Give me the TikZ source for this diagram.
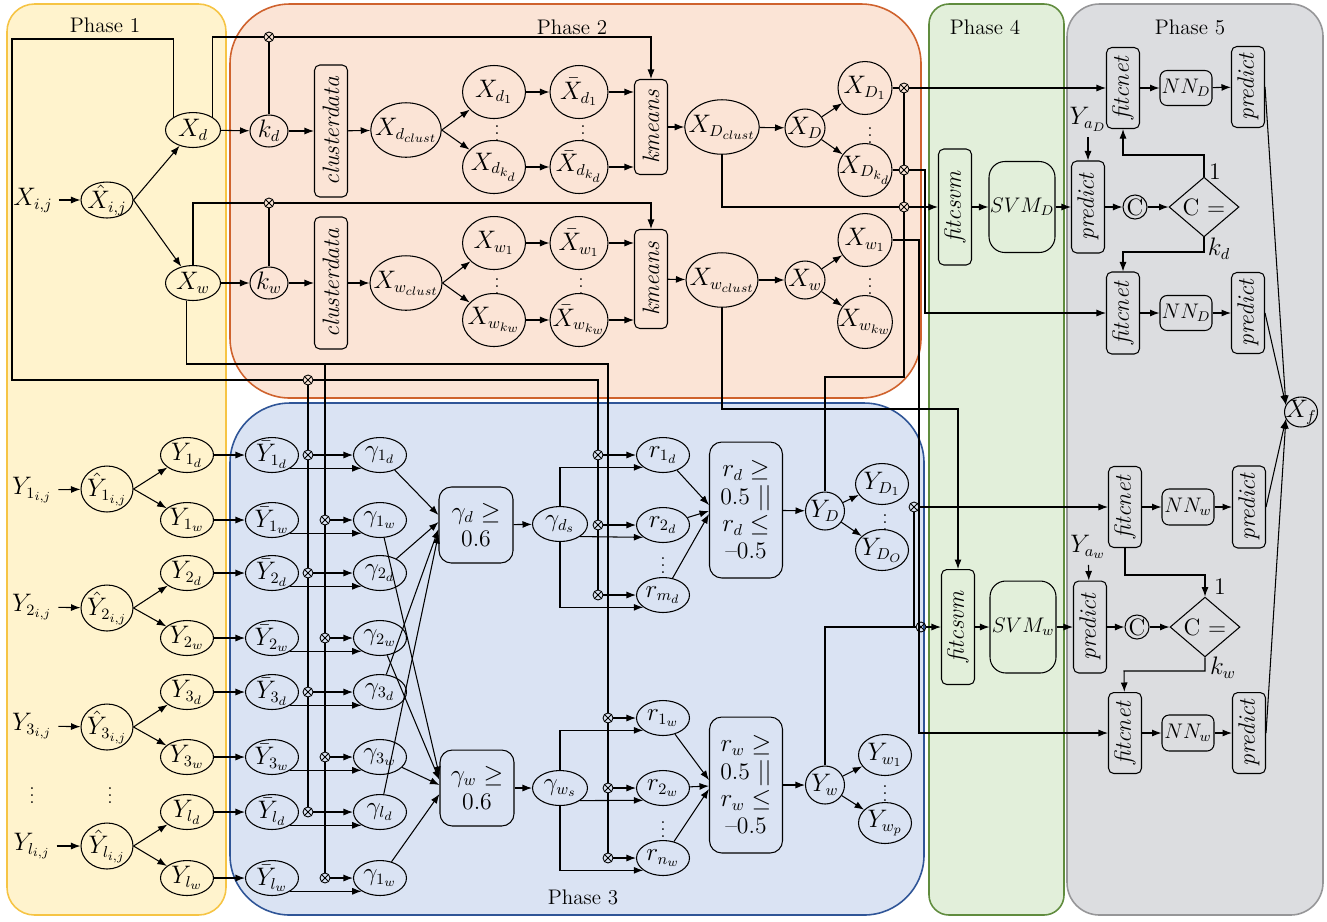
\documentclass[tikz,border=0pt]{standalone}
\usepackage{amsmath,amssymb}
\usepackage{xcolor}
\usepackage{tikz}
\usetikzlibrary{shapes.geometric, arrows.meta, positioning, calc}

\DeclareMathSizes{13.5}{13.5}{9.4}{7}
\definecolor{yelfill}{RGB}{255,243,205}
\definecolor{yelline}{RGB}{246,196,68}
\definecolor{orafill}{RGB}{251,228,214}
\definecolor{oraline}{RGB}{207,98,45}
\definecolor{blufill}{RGB}{218,227,243}
\definecolor{bluline}{RGB}{47,85,151}
\definecolor{grefill}{RGB}{226,239,218}
\definecolor{greline}{RGB}{96,140,62}
\definecolor{gryfill}{RGB}{220,221,224}
\definecolor{gryline}{RGB}{150,150,152}

\begin{document}
\begin{tikzpicture}[x=0.02cm, y=-0.02cm, line width=0.6pt,
  font=\fontsize{13.5}{15.5}\selectfont, >={Latex[length=1.9mm,width=1.4mm]},
  el/.style={draw, ellipse, inner xsep=-4pt, inner ysep=-2pt},
  yel/.style={el, minimum width=1.06cm, minimum height=0.7cm},
  hel/.style={el, minimum width=1.04cm, minimum height=0.92cm},
  xel/.style={el, minimum width=1.26cm, minimum height=1.06cm},
  bel/.style={el, minimum width=1.16cm, minimum height=1.06cm},
  cel/.style={el, minimum width=1.41cm, minimum height=1.09cm},
  oel/.style={el, minimum width=1.08cm, minimum height=1.06cm},
  vb/.style={draw, rotate=90, rounded corners=3pt, inner sep=0pt, minimum height=0.66cm,
    font=\fontsize{13.5}{15.5}\selectfont\itshape},
  rb/.style={draw, rounded corners=7pt, align=center, inner sep=0pt},
  nb/.style={rb, font=\fontsize{12}{14}\selectfont},
  mult/.style={draw, circle, inner sep=0pt, minimum size=0.2cm, line width=0.5pt,
    path picture={\draw[line width=0.5pt] (path picture bounding box.north west) -- (path picture bounding box.south east)
      (path picture bounding box.south west) -- (path picture bounding box.north east);}},
  phase/.style={line width=0.9pt},
  lbl/.style={font=\fontsize{12}{14}\selectfont},
  dts/.style={font=\fontsize{10}{11}\selectfont}]

  \useasboundingbox (0,0) rectangle (1327,921);

  % phase backgrounds
  \draw[phase, draw=yelline, fill=yelfill, rounded corners=0.55cm] (7,4) rectangle (226,915);
  \draw[phase, draw=oraline, fill=orafill, rounded corners=1.2cm] (230,4) rectangle (921,398);
  \draw[phase, draw=bluline, fill=blufill, rounded corners=1.2cm] (230,403) rectangle (924,915);
  \draw[phase, draw=greline, fill=grefill, rounded corners=0.4cm] (929,4) rectangle (1064,915);
  \draw[phase, draw=gryline, fill=gryfill, rounded corners=0.65cm] (1067,4) rectangle (1323,915);
  \node[lbl] (p1) at (105,25) {Phase 1};
  \node[lbl] (p2) at (572,27) {Phase 2};
  \node[lbl] (p3) at (583,897) {Phase 3};
  \node[lbl] (p4) at (985,27) {Phase 4};
  \node[lbl] (p5) at (1190,27) {Phase 5};

  % phase 1
  \node (xij) at (33,200) {$X_{i,j}$};
  \node[el, minimum width=1.04cm, minimum height=0.72cm] (xh) at (107,200) {$\hat{X}_{i,j}$};
  \node[el, minimum width=1.1cm, minimum height=0.7cm] (xd) at (193,130) {$X_d$};
  \node[el, minimum width=1.1cm, minimum height=0.7cm] (xw) at (193,283) {$X_w$};

  \node (yt1) at (32,490) {$Y_{1_{i,j}}$};
  \node[hel] (yh1) at (107,489) {$\hat{Y}_{1_{i,j}}$};
  \node[yel] (y1d) at (187,455) {$Y_{1_d}$};
  \node[yel] (y1w) at (187,520) {$Y_{1_w}$};
  \node (yt2) at (32,607) {$Y_{2_{i,j}}$};
  \node[hel] (yh2) at (107,608) {$\hat{Y}_{2_{i,j}}$};
  \node[yel] (y2d) at (187,573) {$Y_{2_d}$};
  \node[yel] (y2w) at (187,638) {$Y_{2_w}$};
  \node (yt3) at (32,726) {$Y_{3_{i,j}}$};
  \node[hel] (yh3) at (107,727) {$\hat{Y}_{3_{i,j}}$};
  \node[yel] (y3d) at (187,692) {$Y_{3_d}$};
  \node[yel] (y3w) at (187,757) {$Y_{3_w}$};
  \node[dts] (v1) at (32,790) {$\vdots$};
  \node[dts] (v2) at (110,790) {$\vdots$};
  \node (ytl) at (32,846) {$Y_{l_{i,j}}$};
  \node[hel] (yhl) at (107,846) {$\hat{Y}_{l_{i,j}}$};
  \node[yel] (yld) at (187,812) {$Y_{l_d}$};
  \node[yel] (ylw) at (187,878) {$Y_{l_w}$};

  % phase 2
  \node[el, minimum width=0.76cm, minimum height=0.64cm] (kd) at (269,131) {$k_d$};
  \node[el, minimum width=0.76cm, minimum height=0.64cm] (kw) at (269,283) {$k_w$};
  \node[vb, minimum width=2.64cm] (cdd) at (331,131) {clusterdata};
  \node[vb, minimum width=2.64cm] (cdw) at (331,283) {clusterdata};
  \node[cel] (xdc) at (406,130) {$X_{d_{clust}}$};
  \node[cel] (xwc) at (406,283) {$X_{w_{clust}}$};
  \node[xel] (xd1) at (494,92) {$X_{d_1}$};
  \node[dts] (v3) at (497,128) {$\vdots$};
  \node[xel] (xdk) at (494,167) {$X_{d_{k_d}}$};
  \node[bel] (xbd1) at (579,92) {$\bar{X}_{d_1}$};
  \node[dts] (v4) at (583,128) {$\vdots$};
  \node[bel] (xbdk) at (579,167) {$\bar{X}_{d_{k_d}}$};
  \node[xel] (xw1) at (494,243) {$X_{w_1}$};
  \node[dts] (v5) at (497,281) {$\vdots$};
  \node[xel] (xwk) at (494,320) {$X_{w_{k_w}}$};
  \node[bel] (xbw1) at (579,243) {$\bar{X}_{w_1}$};
  \node[dts] (v6) at (581,281) {$\vdots$};
  \node[bel] (xbwk) at (579,320) {$\bar{X}_{w_{k_w}}$};
  \node[vb, minimum width=1.9cm] (kmd) at (651,127) {kmeans};
  \node[vb, minimum width=1.98cm] (kmw) at (651,279) {kmeans};
  \node[cel] (xDc) at (722,127) {$X_{D_{clust}}$};
  \node[cel] (xWc) at (722,280) {$X_{w_{clust}}$};
  \node[el, minimum width=0.8cm, minimum height=0.76cm] (xD) at (805,128) {$X_D$};
  \node[el, minimum width=0.8cm, minimum height=0.76cm] (xW) at (805,280) {$X_w$};
  \node[oel] (xD1) at (865,88) {$X_{D_1}$};
  \node[dts] (v7) at (870,130) {$\vdots$};
  \node[oel] (xDk) at (865,170) {$X_{D_{k_d}}$};
  \node[oel] (xW1) at (865,240) {$X_{w_1}$};
  \node[dts] (v8) at (870,281) {$\vdots$};
  \node[oel] (xWk) at (865,322) {$X_{w_{k_w}}$};

  % phase 3
  \node[yel] (yb1d) at (272,455) {$\bar{Y}_{1_d}$};
  \node[yel] (yb1w) at (272,520) {$\bar{Y}_{1_w}$};
  \node[yel] (yb2d) at (272,573) {$\bar{Y}_{2_d}$};
  \node[yel] (yb2w) at (272,638) {$\bar{Y}_{2_w}$};
  \node[yel] (yb3d) at (272,692) {$\bar{Y}_{3_d}$};
  \node[yel] (yb3w) at (272,757) {$\bar{Y}_{3_w}$};
  \node[yel] (ybld) at (272,812) {$\bar{Y}_{l_d}$};
  \node[yel] (yblw) at (272,878) {$\bar{Y}_{l_w}$};
  \node[yel] (g1d) at (380,455) {$\gamma_{1_d}$};
  \node[yel] (g1w) at (380,520) {$\gamma_{1_w}$};
  \node[yel] (g2d) at (380,573) {$\gamma_{2_d}$};
  \node[yel] (g2w) at (380,638) {$\gamma_{2_w}$};
  \node[yel] (g3d) at (380,692) {$\gamma_{3_d}$};
  \node[yel] (g3w) at (380,757) {$\gamma_{3_w}$};
  \node[yel] (gld) at (380,812) {$\gamma_{l_d}$};
  \node[yel] (glw) at (380,878) {$\gamma_{1_w}$};
  \node[rb, minimum width=1.48cm, minimum height=1.52cm] (gd) at (476,525) {$\gamma_d \geq$\\0.6};
  \node[rb, minimum width=1.48cm, minimum height=1.52cm] (gw) at (477,788) {$\gamma_w \geq$\\0.6};
  \node[el, minimum width=1.1cm, minimum height=0.7cm] (gds) at (560,524) {$\gamma_{d_s}$};
  \node[el, minimum width=1.1cm, minimum height=0.7cm] (gws) at (560,788) {$\gamma_{w_s}$};
  \node[yel] (r1d) at (663,455) {$r_{1_d}$};
  \node[yel] (r2d) at (663,525) {$r_{2_d}$};
  \node[dts] (v9) at (663,560) {$\vdots$};
  \node[yel] (rmd) at (663,595) {$r_{m_d}$};
  \node[yel] (r1w) at (663,718) {$r_{1_w}$};
  \node[yel] (r2w) at (663,788) {$r_{2_w}$};
  \node[dts] (v10) at (663,824) {$\vdots$};
  \node[yel] (rnw) at (663,858) {$r_{n_w}$};
  \node[rb, minimum width=1.46cm, minimum height=2.72cm] (rd) at (746,510) {$r_d \geq$\\0.5 $||$\\$r_d \leq$\\--0.5};
  \node[rb, minimum width=1.46cm, minimum height=2.72cm] (rw) at (746,785) {$r_w \geq$\\0.5 $||$\\$r_w \leq$\\--0.5};
  \node[el, minimum width=0.78cm, minimum height=0.76cm] (YD) at (825,511) {$Y_D$};
  \node[el, minimum width=0.78cm, minimum height=0.76cm] (YW) at (825,785) {$Y_w$};
  \node[el, minimum width=1.06cm, minimum height=0.82cm] (YD1) at (882,484) {$Y_{D_1}$};
  \node[dts] (v11) at (885,517) {$\vdots$};
  \node[el, minimum width=1.06cm, minimum height=0.82cm] (YDo) at (882,550) {$Y_{D_O}$};
  \node[el, minimum width=1.06cm, minimum height=0.82cm] (YW1) at (885,755) {$Y_{w_1}$};
  \node[dts] (v12) at (885,788) {$\vdots$};
  \node[el, minimum width=1.06cm, minimum height=0.82cm] (YWp) at (885,823) {$Y_{w_p}$};

  % phase 4
  \node[vb, minimum width=2.32cm] (fsvmd) at (955,207) {fitcsvm};
  \node[vb, minimum width=2.3cm] (fsvmw) at (958,627) {fitcsvm};
  \node[nb, minimum width=1.32cm, minimum height=1.82cm, rounded corners=9pt] (svmd) at (1022,207) {$SVM_D$};
  \node[nb, minimum width=1.32cm, minimum height=1.84cm, rounded corners=9pt] (svmw) at (1023,627) {$SVM_w$};

  % phase 5
  \node[vb, minimum width=1.62cm] (fnd1) at (1123,88) {fitcnet};
  \node[nb, minimum width=1.04cm, minimum height=0.7cm, rounded corners=4pt] (nnd1) at (1186,88) {$NN_D$};
  \node[vb, minimum width=1.62cm] (prd1) at (1248,87) {predict};
  \node (yad) at (1088,119) {$Y_{a_D}$};
  \node[vb, minimum width=1.84cm] (prd) at (1088,207) {predict};
  \node[draw, circle, inner sep=0pt, minimum size=0.48cm] (cd) at (1135,207) {C};
  \node[draw, diamond, inner sep=0pt, minimum width=1.4cm, minimum height=0.94cm] (dd) at (1204,207) {C =};
  \node (one1) at (1215,172) {1};
  \node (kdl) at (1219,249) {$k_d$};
  \node[vb, minimum width=1.64cm] (fnd2) at (1123,313) {fitcnet};
  \node[nb, minimum width=1.04cm, minimum height=0.7cm, rounded corners=4pt] (nnd2) at (1186,313) {$NN_D$};
  \node[vb, minimum width=1.62cm] (prd2) at (1248,313) {predict};

  \node[vb, minimum width=1.62cm] (fnw1) at (1125,507) {fitcnet};
  \node[nb, minimum width=1.04cm, minimum height=0.72cm, rounded corners=4pt] (nnw1) at (1188,507) {$NN_w$};
  \node[vb, minimum width=1.64cm] (prw1) at (1249,507) {predict};
  \node (yaw) at (1088,547) {$Y_{a_w}$};
  \node[vb, minimum width=1.84cm] (prw) at (1090,627) {predict};
  \node[draw, circle, inner sep=0pt, minimum size=0.48cm] (cw) at (1137,627) {C};
  \node[draw, diamond, inner sep=0pt, minimum width=1.4cm, minimum height=0.92cm] (dw) at (1205,627) {C =};
  \node (one2) at (1220,587) {1};
  \node (kwl) at (1223,668) {$k_w$};
  \node[vb, minimum width=1.62cm] (fnw2) at (1125,733) {fitcnet};
  \node[nb, minimum width=1.04cm, minimum height=0.72cm, rounded corners=4pt] (nnw2) at (1188,733) {$NN_w$};
  \node[vb, minimum width=1.62cm] (prw2) at (1249,733) {predict};
  \node[el, minimum width=0.66cm, minimum height=0.6cm] (xf) at (1301,412) {$X_f$};

  % multipliers
  \node[mult] (mkd) at (269,37) {}; \node[mult] (mkw) at (269,203) {};
  \node[mult] (mx0) at (308,380) {};
  \node[mult] (my1d) at (308,455) {}; \node[mult] (my2d) at (308,573) {};
  \node[mult] (my3d) at (308,692) {}; \node[mult] (myld) at (308,812) {};
  \node[mult] (my1w) at (325,520) {}; \node[mult] (my2w) at (325,638) {};
  \node[mult] (my3w) at (325,757) {}; \node[mult] (mylw) at (325,878) {};
  \node[mult] (mr1d) at (598,455) {}; \node[mult] (mr2d) at (598,525) {}; \node[mult] (mrmd) at (598,595) {};
  \node[mult] (mr1w) at (608,718) {}; \node[mult] (mr2w) at (608,788) {}; \node[mult] (mrnw) at (608,858) {};
  \node[mult] (mD1) at (904,88) {}; \node[mult] (mDk) at (904,170) {}; \node[mult] (mDc) at (904,207) {};
  \node[mult] (mW1) at (914,507) {}; \node[mult] (mWc) at (921,627) {};
  \coordinate (jw) at (325,364);

  % phase 1 links
  \draw[->] (xij) -- (xh); \draw[->] (xh.east) -- (xd); \draw[->] (xh.east) -- (xw);
  \draw[->] (yt1) -- (yh1); \draw[->] (yh1.east) -- (y1d); \draw[->] (yh1.east) -- (y1w);
  \draw[->] (yt2) -- (yh2); \draw[->] (yh2.east) -- (y2d); \draw[->] (yh2.east) -- (y2w);
  \draw[->] (yt3) -- (yh3); \draw[->] (yh3.east) -- (y3d); \draw[->] (yh3.east) -- (y3w);
  \draw[->] (ytl) -- (yhl); \draw[->] (yhl.east) -- (yld); \draw[->] (yhl.east) -- (ylw);

  % phase 2 links
  \draw[->] (xd) -- (kd); \draw[->] (kd) -- (cdd); \draw[->] (cdd) -- (xdc);
  \draw[->] (xdc.east) -- (xd1); \draw[->] (xdc.east) -- (xdk);
  \draw[->] (xd1) -- (xbd1); \draw[->] (xdk) -- (xbdk);
  \draw[->] (xbd1) -- (xbd1 -| kmd.north); \draw[->] (xbdk) -- (xbdk -| kmd.north);
  \draw[->] (kmd) -- (xDc); \draw[->] (xDc) -- (xD); \draw[->] (xD) -- (xD1); \draw[->] (xD) -- (xDk);
  \draw[->] (xw) -- (kw); \draw[->] (kw) -- (cdw); \draw[->] (cdw) -- (xwc);
  \draw[->] (xwc.east) -- (xw1); \draw[->] (xwc.east) -- (xwk);
  \draw[->] (xw1) -- (xbw1); \draw[->] (xwk) -- (xbwk);
  \draw[->] (xbw1) -- (xbw1 -| kmw.north); \draw[->] (xbwk) -- (xbwk -| kmw.north);
  \draw[->] (kmw) -- (xWc); \draw[->] (xWc) -- (xW); \draw[->] (xW) -- (xW1); \draw[->] (xW) -- (xWk);

  \draw (xd.north east) |- (mkd); \draw[->] (mkd) -| (kmd); \draw (mkd) -- (kd);
  \draw (xw.north) |- (mkw); \draw[->] (mkw) -| (kmw); \draw (mkw) -- (kw);
  \draw (xd.north west) |- (12,39) |- (mx0); \draw (mx0) -| (mr1d); \draw (mr1d) -- (mr2d) -- (mrmd);
  \draw (mx0) -- (my1d) -- (my2d) -- (my3d) -- (myld);
  \draw (xw.250) |- (608,364) -- (mr1w) -- (mr2w) -- (mrnw);
  \draw (jw) -- (my1w) -- (my2w) -- (my3w) -- (mylw);

  % phase 3 links
  \draw[->] (y1d) -- (yb1d); \draw[->] (my1d) -- (g1d); \draw[->] (yb1d.-36) -- (g1d.216);
  \draw[->] (y1w) -- (yb1w); \draw[->] (my1w) -- (g1w); \draw[->] (yb1w.-36) -- (g1w.216);
  \draw[->] (y2d) -- (yb2d); \draw[->] (my2d) -- (g2d); \draw[->] (yb2d.-36) -- (g2d.216);
  \draw[->] (y2w) -- (yb2w); \draw[->] (my2w) -- (g2w); \draw[->] (yb2w.-36) -- (g2w.216);
  \draw[->] (y3d) -- (yb3d); \draw[->] (my3d) -- (g3d); \draw[->] (yb3d.-36) -- (g3d.216);
  \draw[->] (y3w) -- (yb3w); \draw[->] (my3w) -- (g3w); \draw[->] (yb3w.-36) -- (g3w.216);
  \draw[->] (yld) -- (ybld); \draw[->] (myld) -- (gld); \draw[->] (ybld.-36) -- (gld.216);
  \draw[->] (ylw) -- (yblw); \draw[->] (mylw) -- (glw); \draw[->] (yblw.-36) -- (glw.216);

  \draw[->] (g1d) -- ($(gd.west)+(0,-10)$); \draw[->] (g2d) -- ($(gd.west)+(0,-3)$);
  \draw[->] (g3d) -- ($(gd.west)+(0,4)$); \draw[->] (gld) -- ($(gd.west)+(0,9)$);
  \draw[->] (g1w) -- ($(gw.west)+(0,-12)$); \draw[->] (g2w) -- ($(gw.west)+(0,-8)$);
  \draw[->] (g3w) -- ($(gw.west)+(0,-3)$); \draw[->] (glw) -- ($(gw.west)+(0,6)$);

  \draw[->] (gd) -- (gds);
  \draw[->] (gds.north) |- (r1d.212); \draw[->] (gds.-32) -- (r2d.212); \draw[->] (gds.south) |- (rmd.212);
  \draw[->] (mr1d) -- (r1d); \draw[->] (mr2d) -- (r2d); \draw[->] (mrmd) -- (rmd);
  \draw[->] (r1d) -- ($(rd.west)+(0,-5)$); \draw[->] (r2d) -- ($(rd.west)+(0,1)$); \draw[->] (rmd) -- ($(rd.west)+(0,4)$);
  \draw[->] (rd) -- (YD); \draw[->] (YD) -- (YD1); \draw[->] (YD) -- (YDo);
  \draw[->] (gw) -- (gws);
  \draw[->] (gws.north) |- (r1w.212); \draw[->] (gws.-32) -- (r2w.212); \draw[->] (gws.south) |- (rnw.212);
  \draw[->] (mr1w) -- (r1w); \draw[->] (mr2w) -- (r2w); \draw[->] (mrnw) -- (rnw);
  \draw[->] (r1w) -- ($(rw.west)+(0,-5)$); \draw[->] (r2w) -- ($(rw.west)+(0,1)$); \draw[->] (rnw) -- ($(rw.west)+(0,4)$);
  \draw[->] (rw) -- (YW); \draw[->] (YW) -- (YW1); \draw[->] (YW) -- (YWp);

  % to phases 4 and 5
  \draw (YD) |- (904,377) -- (mDc) -- (mDk) -- (mD1);
  \draw (xD1) -- (mD1); \draw[->] (mD1) -- (fnd1);
  \draw (xDk) -- (mDk); \draw[->] (mDk) -| (925,313) -- (fnd2);
  \draw (xDc) |- (mDc); \draw[->] (mDc) -- (fsvmd);
  \draw[->] (xW1) -| (919,733) -- (fnw2);
  \draw[->] (mW1) -- (fnw1); \draw (mW1) -- (914,627);
  \draw (YW) |- (mWc); \draw[->] (mWc) -- (fsvmw);
  \draw[->] (xWc) |- (958,409) -- (fsvmw);

  % phases 4 and 5 links
  \draw[->] (fsvmd) -- (svmd); \draw[->] (svmd) -- (prd); \draw[->] (prd) -- (cd); \draw[->] (cd) -- (dd);
  \draw[->] (yad) -- (prd);
  \draw[->] (dd.north) |- (1123,155) -- (fnd1);
  \draw[->] (dd.south) |- (1123,252) -- (fnd2);
  \draw[->] (fnd1) -- (nnd1); \draw[->] (nnd1) -- (prd1);
  \draw[->] (fnd2) -- (nnd2); \draw[->] (nnd2) -- (prd2);
  \draw[->] (fsvmw) -- (svmw); \draw[->] (svmw) -- (prw); \draw[->] (prw) -- (cw); \draw[->] (cw) -- (dw);
  \draw[->] (yaw) -- (prw);
  \draw[->] (fnw1) |- (1205,575) -- (dw);
  \draw[->] (dw.south) |- (1124,671) -- (fnw2);
  \draw[->] (fnw1) -- (nnw1); \draw[->] (nnw1) -- (prw1);
  \draw[->] (fnw2) -- (nnw2); \draw[->] (nnw2) -- (prw2);
  \draw[->] (prd1.south) -- (xf.155); \draw[->] (prd2.south) -- (xf.155);
  \draw[->] (prw1.south) -- (xf.205); \draw[->] (prw2.south) -- (xf.205);
\end{tikzpicture}
\end{document}
